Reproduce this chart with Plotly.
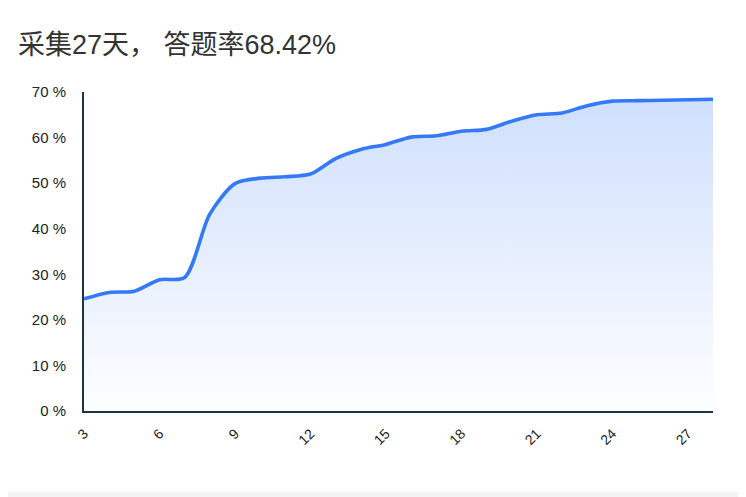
import plotly.graph_objects as go

days = list(range(3, 29))
rate = [24.6, 26.0, 26.3, 28.8, 29.3, 43.2, 49.9, 51.1, 51.4, 52.0, 55.4, 57.4, 58.5,
        60.1, 60.4, 61.4, 61.8, 63.6, 65.0, 65.4, 67.0, 68.0, 68.1, 68.2, 68.3, 68.42]
tick_days = [3, 6, 9, 12, 15, 18, 21, 24, 27]
y_ticks = [0, 10, 20, 30, 40, 50, 60, 70]
title_text = "采集27天， 答题率68.42%"

line_color = "#3479f6"
axis_color = "#1e3246"

# page body has an 8px margin, so the figure is sized/positioned to compensate
W, H = 738, 489

fig = go.Figure()
fig.add_trace(go.Scatter(
    x=days, y=rate, mode="lines",
    line=dict(color=line_color, width=3.6, shape="spline", smoothing=0.8),
    fill="tozeroy",
    fillgradient=dict(type="vertical", start=0, stop=70,
                      colorscale=[[0, "rgba(52,121,246,0.01)"], [1, "rgba(52,121,246,0.24)"]]),
    hoverinfo="skip", showlegend=False,
))

fig.update_layout(
    width=W, height=H,
    margin=dict(l=76, r=33, t=84, b=86),
    paper_bgcolor="white", plot_bgcolor="white",
    font=dict(family="Liberation Sans, Arial, sans-serif", color="#222", size=15),
    title=dict(text=title_text, x=10 / W, xref="container", xanchor="left",
               y=1 - 37 / H, yref="container", yanchor="middle",
               font=dict(family="Liberation Sans, Noto Sans CJK SC, sans-serif", size=27, color="#333"),
               pad=dict(l=0, r=0, t=0, b=0)),
    shapes=[dict(type="rect", xref="paper", yref="paper", x0=-0.2, x1=1.1,
                 y0=-0.3, y1=-(492 - 411) / 319, fillcolor="#f4f4f4",
                 line=dict(width=0), layer="below")],
)

fig.update_xaxes(
    range=[3, 28], tickvals=tick_days, ticktext=[str(d) for d in tick_days],
    tickangle=-45, showgrid=False, zeroline=False,
    showline=True, linecolor=axis_color, linewidth=2,
    ticks="", ticklabelstandoff=7, tickfont=dict(size=14, color="#222"),
)
fig.update_yaxes(
    range=[0, 70], tickvals=y_ticks, ticktext=[f"{v} %" for v in y_ticks],
    showgrid=False, zeroline=False,
    showline=True, linecolor=axis_color, linewidth=2,
    ticks="", ticklabelstandoff=13, tickfont=dict(size=15, color="#222"),
)

fig.write_html("out.html")
